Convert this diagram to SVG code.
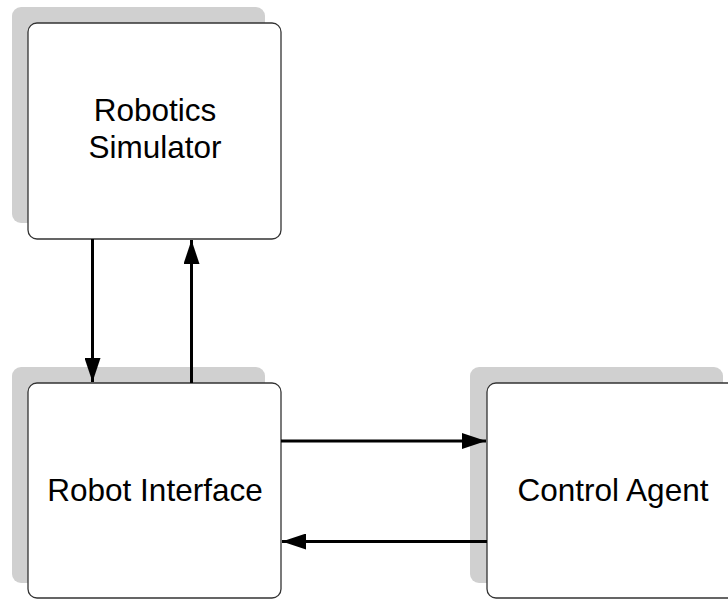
<svg xmlns="http://www.w3.org/2000/svg" width="728" height="599" viewBox="0 0 728 599">
  <style>
    .shadow { fill: #d0d0d0; }
    .box { fill: #ffffff; stroke: #333333; stroke-width: 1.3; }
    .label { font-family: "Liberation Sans", Arial, sans-serif; font-size: 31.5px; fill: #000000; text-anchor: middle; }
    .conn { stroke: #000000; stroke-width: 3; fill: none; marker-end: url(#arrow); }
  </style>
  <defs>
    <marker id="arrow" viewBox="0 0 24 16" refX="24" refY="8" markerWidth="24" markerHeight="16" markerUnits="userSpaceOnUse" orient="auto">
      <path d="M0,0 L24,8 L0,16 Z" fill="#000000"/>
    </marker>
  </defs>
  <rect width="728" height="599" fill="#ffffff"/>

  <g id="robotics-simulator">
    <rect class="shadow" x="12" y="7" width="253" height="216" rx="9"/>
    <rect class="box" x="28" y="23" width="253" height="216" rx="9"/>
    <text class="label" x="155" y="121">Robotics</text>
    <text class="label" x="155" y="158">Simulator</text>
  </g>

  <g id="robot-interface">
    <rect class="shadow" x="12" y="367" width="253" height="216" rx="9"/>
    <rect class="box" x="28" y="383" width="253" height="215" rx="9"/>
    <text class="label" x="155" y="501">Robot Interface</text>
  </g>

  <g id="control-agent">
    <rect class="shadow" x="470" y="367" width="253" height="216" rx="9"/>
    <rect class="box" x="487" y="383" width="253" height="215" rx="9"/>
    <text class="label" x="613" y="501">Control Agent</text>
  </g>

  <g id="connectors">
    <line class="conn" x1="92.5" y1="239" x2="92.5" y2="382"/>
    <line class="conn" x1="191.5" y1="383" x2="191.5" y2="240"/>
    <line class="conn" x1="281" y1="441" x2="486" y2="441"/>
    <line class="conn" x1="487" y1="541.5" x2="282" y2="541.5"/>
  </g>
</svg>
